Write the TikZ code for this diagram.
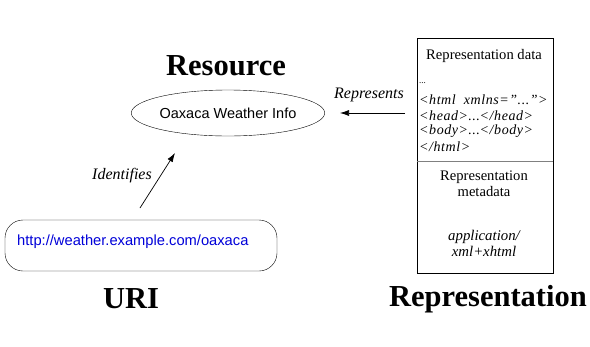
\documentclass[tikz,border=0pt]{standalone}
\usepackage{fontspec}
\setmainfont{Liberation Serif}
\setsansfont{Liberation Sans}
\usetikzlibrary{arrows.meta,shapes.geometric}
\begin{document}
\begin{tikzpicture}[x=1pt,y=-1pt,
  heading/.style={font=\fontsize{30.5}{33}\selectfont\bfseries, inner sep=0},
  lbl/.style={font=\fontsize{16}{18}\selectfont\itshape, inner sep=0},
  body/.style={font=\fontsize{14.6}{16}\selectfont, inner sep=0},
  code/.style={font=\fontsize{14}{15}\selectfont\itshape\addfontfeature{LetterSpace=4}, inner sep=0, anchor=west},
  conn/.style={-{Latex[length=9pt,width=6pt]}, line width=0.7pt}]
\useasboundingbox[fill=white] (0,0) rectangle (590,346);
\node[heading] (reshead) at (226,66) {Resource};
\node[draw, ellipse, minimum width=191, minimum height=46, inner sep=0,
      font=\sffamily\fontsize{14.5}{16}\selectfont] (res) at (228,113) {Oaxaca Weather Info};
\node[draw, rounded corners=18pt, minimum width=272, minimum height=51, inner sep=0] (uri) at (141,245.5) {};
\node[anchor=west, text=blue!85!black, font=\sffamily\fontsize{14.7}{16}\selectfont, inner sep=0] (uritext) at (17,242) {http://weather.example.com/oaxaca};
\node[heading] (urihead) at (131,299) {URI};
\node[draw, minimum width=136, minimum height=235, inner sep=0, line width=0.6pt] (rep) at (485,155.5) {};
\coordinate (div1) at (417,161);
\coordinate (div2) at (553,161);
\draw[gray, line width=0.6pt] (div1) -- (div2);
\node[body] (rdata) at (484,56) {Representation data};
\node[body, anchor=west] (dots) at (419,83) {\fontsize{9}{9}\selectfont...};
\node[code] (l1) at (419,100) {<html\ \ xmlns=''...''>};
\node[code] (l2) at (419,116) {<head>\upshape...\itshape</head>};
\node[code] (l3) at (419,131.5) {<body>\upshape...\itshape</body>};
\node[code] (l4) at (419,147) {</html>};
\node[body, align=center] (rmeta) at (484,184) {Representation\\metadata};
\node[body, align=center, font=\fontsize{14.8}{16}\selectfont\itshape] (rtype) at (484,243) {application/\\xml+xhtml};
\node[heading] (rephead) at (488,299) {Representation};
\coordinate (repsrc) at (405,113);
\coordinate (respt) at (340,113);
\draw[conn] (repsrc) -- (respt);
\node[lbl] (represents) at (369,95) {Represents};
\coordinate (urisrc) at (140,208);
\coordinate (resbot) at (175,153);
\draw[conn] (urisrc) -- (resbot);
\node[lbl] (identifies) at (122,176) {Identifies};
\end{tikzpicture}
\end{document}
